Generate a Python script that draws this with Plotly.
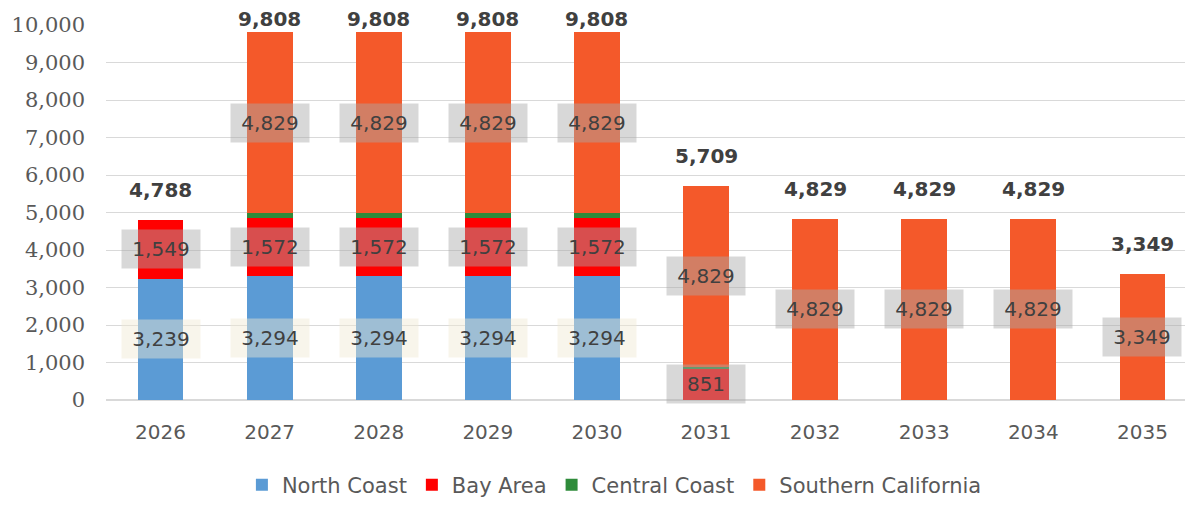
import plotly.graph_objects as go

years = ["2026", "2027", "2028", "2029", "2030", "2031", "2032", "2033", "2034", "2035"]
north_coast = [3239, 3294, 3294, 3294, 3294, 0, 0, 0, 0, 0]
bay_area = [1549, 1572, 1572, 1572, 1572, 851, 0, 0, 0, 0]
central_coast = [0, 113, 113, 113, 113, 29, 0, 0, 0, 0]
southern_california = [0, 4829, 4829, 4829, 4829, 4829, 4829, 4829, 4829, 3349]

series = [
    ("North Coast", north_coast, "#5B9BD5", "rgba(240,232,210,0.45)", True),
    ("Bay Area", bay_area, "#FF0000", "rgba(170,170,170,0.46)", True),
    ("Central Coast", central_coast, "#2E8B3A", None, False),
    ("Southern California", southern_california, "#F4592A", "rgba(170,170,170,0.46)", True),
]

fig = go.Figure()
annotations = []
base = [0] * len(years)
for name, vals, color, boxcol, labelled in series:
    fig.add_trace(go.Bar(
        name=name, x=years, y=vals, marker=dict(color=color, line=dict(width=0)),
        width=0.42,
    ))
    if labelled:
        for i, v in enumerate(vals):
            if v > 0:
                annotations.append(dict(
                    x=i, y=base[i] + v / 2, xref="x", yref="y",
                    text=f"{v:,}", showarrow=False,
                    font=dict(family="DejaVu Sans", size=20, color="#404040"),
                    bgcolor=boxcol, width=70, height=30, borderpad=4,
                    xanchor="center", yanchor="middle",
                ))
    base = [b + v for b, v in zip(base, vals)]

totals = base
for i, t in enumerate(totals):
    annotations.append(dict(
        x=i, y=t, xref="x", yref="y", text=f"<b>{t:,}</b>", showarrow=False,
        font=dict(family="DejaVu Sans", size=20, color="#404040"),
        xanchor="center", yanchor="middle", yshift=30 if t < 9000 else 13,
    ))

fig.update_layout(
    barmode="stack",
    width=1193, height=506,
    margin=dict(l=96, r=4, t=17, b=114),
    plot_bgcolor="white", paper_bgcolor="white",
    showlegend=True,
    legend=dict(orientation="h", x=0.466, xanchor="center", y=-0.227, yanchor="middle",
                font=dict(family="DejaVu Sans", size=21, color="#595959"),
                traceorder="normal", itemwidth=30),
    xaxis=dict(type="category", range=[-0.5, 9.5], showgrid=False,
               tickfont=dict(family="DejaVu Sans", size=20, color="#595959"),
               showline=False, ticks="", ticklabelstandoff=18),
    yaxis=dict(range=[0, 10000], dtick=1000, tickformat=",d", showgrid=True,
               gridcolor="#D9D9D9", gridwidth=1, zeroline=True, zerolinecolor="#D9D9D9",
               tickfont=dict(family="DejaVu Serif", size=21, color="#595959"),
               ticks="", ticklabelstandoff=20),
    annotations=annotations,
    bargap=0.58,
)

fig.write_html("out.html")
